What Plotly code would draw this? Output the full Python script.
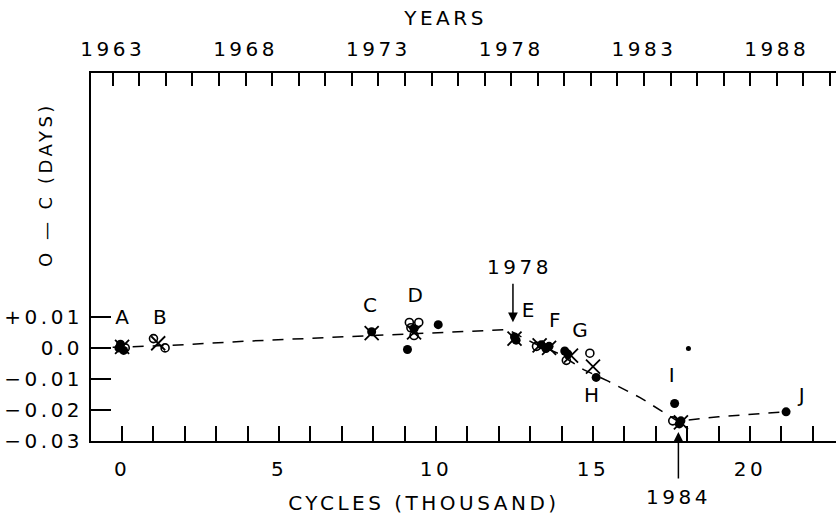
import plotly.graph_objects as go

# ---- data ----
# fitted O-C curve (dashed)
fit_cycles = [-0.3, 1.5, 4.0, 6.0, 8.0, 9.4, 11.0, 12.3, 12.6, 13.1, 13.9, 14.7, 15.5, 16.5, 17.7, 19.0, 21.1]
fit_oc = [0.0002, 0.0008, 0.0022, 0.0031, 0.0041, 0.0047, 0.0054, 0.0059, 0.0042, 0.0016, -0.0018, -0.0070, -0.0108, -0.0160, -0.0236, -0.0222, -0.0206]

# filled-circle observations
filled_cycles = [-0.05, 0.05, -0.1, 7.95, 9.3, 9.09, 10.07, 12.5, 12.55, 13.35, 13.6, 13.5, 14.1, 14.2, 15.1, 17.6, 17.75, 17.8, 21.15]
filled_oc = [0.0012, -0.0008, 0.0, 0.0052, 0.0062, -0.0005, 0.0075, 0.0035, 0.0025, 0.0010, 0.0005, -0.0002, -0.0010, -0.0020, -0.0095, -0.0179, -0.0245, -0.0235, -0.0206]

# open-circle observations
open_cycles = [0.1, 1.0, 1.37, 9.15, 9.45, 9.3, 9.2, 13.2, 14.15, 14.9, 17.54]
open_oc = [0.0, 0.003, 0.0, 0.0082, 0.0082, 0.004, 0.0065, 0.0005, -0.004, -0.0017, -0.0235]

# cross observations
cross_cycles = [0.0, 1.15, 7.95, 9.3, 12.5, 13.3, 13.6, 14.3, 15.0, 17.8]
cross_oc = [0.0003, 0.0015, 0.0048, 0.005, 0.003, 0.0008, 0.0, -0.0025, -0.006, -0.024]

# small dot
dot_cycles = [18.04]
dot_oc = [-0.0002]

# group letters
label_names = ["A", "B", "C", "D", "E", "F", "G", "H", "I", "J"]
label_cycles = [0.06, 1.26, 7.95, 9.39, 12.99, 13.84, 14.64, 15.01, 17.56, 21.7]
label_oc = [0.0092, 0.0092, 0.0132, 0.0164, 0.0116, 0.0084, 0.0052, -0.0158, -0.0093, -0.0158]

# epoch markers
epoch_labels = ["1978", "1984"]
epoch_cycles = [12.45, 17.72]

# axes
y_tickvals = [-0.03, -0.02, -0.01, 0.0, 0.01]
y_ticktext = ["\u22120.03", "\u22120.02", "\u22120.01", "0.0", "+0.01"]
x_range = [-0.99, 22.74]
y_range = [-0.03, 0.0886]
year_range = [1962.18, 1990.23]

FONT = "DejaVu Sans"
fs = 20

W, H = 836, 518
L, R, T, B = 91, 0, 73, 77
pw, ph = W - L - R, H - T - B


def px_to_paper(px, py):
    return (px - L) / pw, (H - B - py) / ph


fig = go.Figure()

fig.add_trace(go.Scatter(x=fit_cycles, y=fit_oc, mode="lines",
                         line=dict(color="black", width=1.5, dash="11px,9px"),
                         hoverinfo="skip", showlegend=False))
fig.add_trace(go.Scatter(x=open_cycles, y=open_oc, mode="markers",
                         marker=dict(symbol="circle-open", size=8, color="black", line=dict(width=1.6)),
                         showlegend=False))
fig.add_trace(go.Scatter(x=filled_cycles, y=filled_oc, mode="markers",
                         marker=dict(symbol="circle", size=9, color="black"),
                         showlegend=False))
fig.add_trace(go.Scatter(x=cross_cycles, y=cross_oc, mode="markers",
                         marker=dict(symbol="x-thin-open", size=14, color="black", line=dict(width=1.8, color="black")),
                         showlegend=False))
fig.add_trace(go.Scatter(x=dot_cycles, y=dot_oc, mode="markers",
                         marker=dict(symbol="circle", size=5, color="black"),
                         showlegend=False))
fig.add_trace(go.Scatter(x=label_cycles, y=label_oc, mode="text", text=label_names,
                         textfont=dict(family=FONT, size=fs, color="black"),
                         showlegend=False, hoverinfo="skip"))
# invisible trace to activate top (years) axis
fig.add_trace(go.Scatter(x=year_range, y=[None, None], xaxis="x2", mode="lines",
                         showlegend=False, hoverinfo="skip"))

txtfont = dict(family=FONT, size=fs, color="black")

# 1978 arrow (pointing down) and label
fig.add_annotation(x=epoch_cycles[0], y=0.0083, xref="x", yref="y", text="", showarrow=True,
                   ax=0, ay=-40, arrowhead=2, arrowsize=1.3, arrowwidth=1.5, arrowcolor="black")
fig.add_annotation(x=epoch_cycles[0] + 0.2, y=0.0261, xref="x", yref="y", text=epoch_labels[0],
                   showarrow=False, xanchor="center", yanchor="middle", font=txtfont)
# 1984 arrow (pointing up) and label
fig.add_annotation(x=epoch_cycles[1], y=-0.0271, xref="x", yref="y", text="", showarrow=True,
                   ax=0, ay=48, arrowhead=2, arrowsize=1.3, arrowwidth=1.5, arrowcolor="black")
fig.add_annotation(x=epoch_cycles[1], y=px_to_paper(0, 497)[1], xref="x", yref="paper",
                   text=epoch_labels[1], showarrow=False, xanchor="center", yanchor="middle", font=txtfont)

# axis titles
px, py = px_to_paper(45, 185)
fig.add_annotation(x=px, y=py, xref="paper", yref="paper", text="O \u2014 C (DAYS)", showarrow=False,
                   textangle=-90, xanchor="center", yanchor="middle",
                   font=dict(family=FONT, size=18, color="black"))
px, py = px_to_paper(424, 503)
fig.add_annotation(x=px, y=py, xref="paper", yref="paper", text="CYCLES (THOUSAND)", showarrow=False,
                   xanchor="center", yanchor="middle", font=txtfont)
px, py = px_to_paper(445, 18)
fig.add_annotation(x=px, y=py, xref="paper", yref="paper", text="YEARS", showarrow=False,
                   xanchor="center", yanchor="middle", font=txtfont)

axis_common = dict(showgrid=False, zeroline=False, showline=True, linecolor="black", linewidth=1.8,
                   tickcolor="black", tickwidth=1.5, ticks="inside",
                   tickfont=dict(family=FONT, size=fs, color="black"))

fig.update_layout(
    width=W, height=H,
    margin=dict(l=L, r=R, t=T, b=B),
    paper_bgcolor="white", plot_bgcolor="white",
    xaxis=dict(range=x_range, tick0=0, dtick=5, ticklen=15,
               minor=dict(dtick=1, ticks="inside", ticklen=15, tickcolor="black", tickwidth=1.5),
               ticklabelstandoff=9, **axis_common),
    xaxis2=dict(range=year_range, overlaying="x", side="top", anchor="y", tick0=1963, dtick=5, ticklen=13,
                minor=dict(dtick=1, ticks="inside", ticklen=13, tickcolor="black", tickwidth=1.5),
                ticklabelstandoff=7, **axis_common),
    yaxis=dict(range=y_range, tickvals=y_tickvals, ticktext=y_ticktext, ticklen=20,
               ticklabelstandoff=2, **axis_common),
)

post = """
document.body.style.margin = '0px';
document.querySelectorAll('.main-svg text').forEach(function(t){ t.style.letterSpacing = '3.5px'; });
"""

fig.write_html("out.html", post_script=post, config={"displayModeBar": False})
